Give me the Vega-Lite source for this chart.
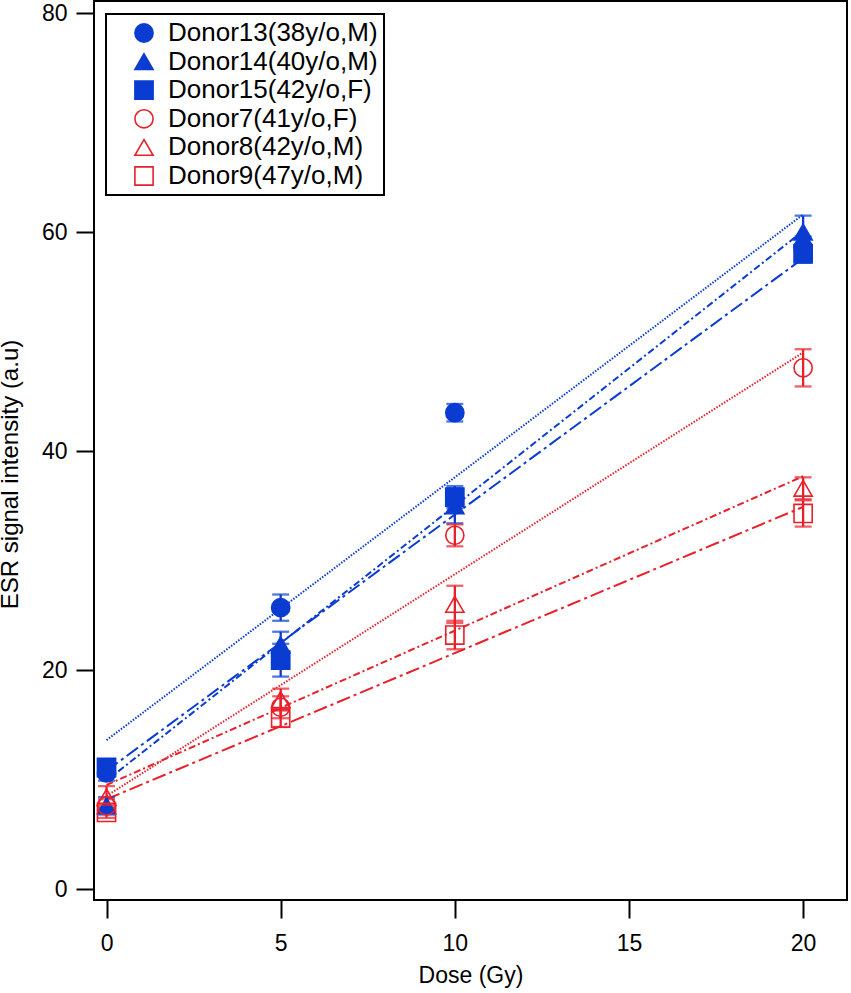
{
  "$schema": "https://vega.github.io/schema/vega-lite/v6.json",
  "autosize": "none",
  "width": 753,
  "height": 899,
  "padding": {"left": 94, "top": 1, "right": 4, "bottom": 93},
  "background": "white",
  "config": {
    "font": "Liberation Sans",
    "view": {"stroke": "black", "strokeWidth": 2},
    "axis": {
      "domain": false,
      "grid": false,
      "tickColor": "black",
      "tickWidth": 2,
      "tickSize": 18,
      "labelColor": "black",
      "labelFontSize": 23,
      "titleColor": "black",
      "titleFontWeight": "normal"
    },
    "legend": {
      "orient": "none",
      "legendX": 12,
      "legendY": 13,
      "padding": 6,
      "symbolOffset": 19,
      "labelOffset": 11,
      "rowPadding": 2.6,
      "labelFontSize": 26,
      "labelColor": "black",
      "labelLimit": 400,
      "symbolSize": 330,
      "symbolStrokeWidth": 1.6,
      "strokeColor": "black",
      "strokeWidth": 2,
      "fillColor": "white"
    }
  },
  "datasets": {
    "points": [
      {"donor": "Donor13(38y/o,M)", "dose": 0, "value": 10.6, "err": 0.7},
      {"donor": "Donor13(38y/o,M)", "dose": 5, "value": 25.7, "err": 1.2},
      {"donor": "Donor13(38y/o,M)", "dose": 10, "value": 43.5, "err": 0.8},
      {"donor": "Donor13(38y/o,M)", "dose": 20, "value": 58.6, "err": 1.0},
      {"donor": "Donor14(40y/o,M)", "dose": 0, "value": 7.6, "err": 0.8},
      {"donor": "Donor14(40y/o,M)", "dose": 5, "value": 22.3, "err": 1.2},
      {"donor": "Donor14(40y/o,M)", "dose": 10, "value": 35.0, "err": 1.6},
      {"donor": "Donor14(40y/o,M)", "dose": 20, "value": 60.0, "err": 1.5},
      {"donor": "Donor15(42y/o,F)", "dose": 0, "value": 11.1, "err": 0.6},
      {"donor": "Donor15(42y/o,F)", "dose": 5, "value": 20.9, "err": 1.5},
      {"donor": "Donor15(42y/o,F)", "dose": 10, "value": 35.8, "err": 1.0},
      {"donor": "Donor15(42y/o,F)", "dose": 20, "value": 58.0, "err": 0.8},
      {"donor": "Donor7(41y/o,F)", "dose": 0, "value": 7.6, "err": 0.6},
      {"donor": "Donor7(41y/o,F)", "dose": 5, "value": 16.6, "err": 1.0},
      {"donor": "Donor7(41y/o,F)", "dose": 10, "value": 32.3, "err": 1.0},
      {"donor": "Donor7(41y/o,F)", "dose": 20, "value": 47.6, "err": 1.7},
      {"donor": "Donor8(42y/o,M)", "dose": 0, "value": 8.4, "err": 1.0},
      {"donor": "Donor8(42y/o,M)", "dose": 5, "value": 17.3, "err": 1.0},
      {"donor": "Donor8(42y/o,M)", "dose": 10, "value": 26.0, "err": 1.7},
      {"donor": "Donor8(42y/o,M)", "dose": 20, "value": 36.6, "err": 1.0},
      {"donor": "Donor9(47y/o,M)", "dose": 0, "value": 7.0, "err": 0.5},
      {"donor": "Donor9(47y/o,M)", "dose": 5, "value": 15.6, "err": 0.8},
      {"donor": "Donor9(47y/o,M)", "dose": 10, "value": 23.2, "err": 1.3},
      {"donor": "Donor9(47y/o,M)", "dose": 20, "value": 34.3, "err": 1.2}
    ],
    "fits": [
      {"donor": "Donor13(38y/o,M)", "dose": 0, "fit": 13.6},
      {"donor": "Donor13(38y/o,M)", "dose": 20, "fit": 61.6},
      {"donor": "Donor14(40y/o,M)", "dose": 0, "fit": 9.9},
      {"donor": "Donor14(40y/o,M)", "dose": 20, "fit": 60.1},
      {"donor": "Donor15(42y/o,F)", "dose": 0, "fit": 10.8},
      {"donor": "Donor15(42y/o,F)", "dose": 20, "fit": 57.6},
      {"donor": "Donor7(41y/o,F)", "dose": 0, "fit": 8.5},
      {"donor": "Donor7(41y/o,F)", "dose": 20, "fit": 49.0},
      {"donor": "Donor8(42y/o,M)", "dose": 0, "fit": 9.5},
      {"donor": "Donor8(42y/o,M)", "dose": 20, "fit": 37.7},
      {"donor": "Donor9(47y/o,M)", "dose": 0, "fit": 8.2},
      {"donor": "Donor9(47y/o,M)", "dose": 20, "fit": 34.9}
    ]
  },
  "encoding": {
    "x": {
      "field": "dose",
      "type": "quantitative",
      "title": "Dose (Gy)",
      "scale": {"domain": [-0.36, 21.26], "nice": false, "zero": false},
      "axis": {
        "values": [0, 5, 10, 15, 20],
        "labelPadding": 14,
        "titleFontSize": 23,
        "titleBaseline": "alphabetic",
        "titleY": 82
      }
    }
  },
  "layer": [
    {
      "data": {"name": "fits"},
      "mark": {"type": "line", "strokeWidth": 2},
      "encoding": {
        "y": {
          "field": "fit",
          "type": "quantitative",
          "title": "ESR signal intensity (a.u)",
          "scale": {"domain": [-1.0, 81.1], "nice": false, "zero": false},
          "axis": {
            "values": [0, 20, 40, 60, 80],
            "labelPadding": 9,
            "titleFontSize": 24,
            "titleX": -72,
            "titleY": 473
          }
        },
        "color": {
          "field": "donor",
          "type": "nominal",
          "legend": null,
          "scale": {
            "domain": ["Donor9(47y/o,M)", "Donor8(42y/o,M)", "Donor7(41y/o,F)", "Donor15(42y/o,F)", "Donor14(40y/o,M)", "Donor13(38y/o,M)"],
            "range": ["#e8202a", "#e8202a", "#e8202a", "#0a3cd2", "#0a3cd2", "#0a3cd2"]
          }
        },
        "strokeDash": {
          "field": "donor",
          "type": "nominal",
          "legend": null,
          "scale": {
            "domain": ["Donor14(40y/o,M)", "Donor13(38y/o,M)", "Donor15(42y/o,F)", "Donor8(42y/o,M)", "Donor7(41y/o,F)", "Donor9(47y/o,M)"],
            "range": [[7, 3, 2, 3], [1.5, 1.5], [14, 4, 3, 4], [7, 3, 2, 3], [1.5, 1.5], [14, 4, 3, 4]]
          }
        }
      }
    },
    {
      "data": {"name": "points"},
      "mark": {"type": "errorbar", "ticks": true, "size": 17, "thickness": 2.3},
      "encoding": {
        "y": {"field": "value", "type": "quantitative", "title": "ESR signal intensity (a.u)"},
        "yError": {"field": "err"},
        "color": {"field": "donor", "type": "nominal", "legend": null}
      }
    },
    {
      "data": {"name": "points"},
      "mark": {"type": "point", "size": 330, "strokeWidth": 1.6, "opacity": 1},
      "encoding": {
        "y": {"field": "value", "type": "quantitative", "title": "ESR signal intensity (a.u)"},
        "shape": {
          "field": "donor",
          "type": "nominal",
          "title": null,
          "scale": {
            "domain": ["Donor13(38y/o,M)", "Donor14(40y/o,M)", "Donor15(42y/o,F)", "Donor7(41y/o,F)", "Donor8(42y/o,M)", "Donor9(47y/o,M)"],
            "range": ["circle", "triangle-up", "square", "circle", "triangle-up", "square"]
          }
        },
        "fill": {
          "field": "donor",
          "type": "nominal",
          "title": null,
          "scale": {
            "domain": ["Donor13(38y/o,M)", "Donor14(40y/o,M)", "Donor15(42y/o,F)", "Donor7(41y/o,F)", "Donor8(42y/o,M)", "Donor9(47y/o,M)"],
            "range": ["#0a3cd2", "#0a3cd2", "#0a3cd2", "transparent", "transparent", "transparent"]
          }
        },
        "stroke": {
          "field": "donor",
          "type": "nominal",
          "title": null,
          "scale": {
            "domain": ["Donor13(38y/o,M)", "Donor14(40y/o,M)", "Donor15(42y/o,F)", "Donor7(41y/o,F)", "Donor8(42y/o,M)", "Donor9(47y/o,M)"],
            "range": ["#0a3cd2", "#0a3cd2", "#0a3cd2", "#e8202a", "#e8202a", "#e8202a"]
          }
        }
      }
    }
  ]
}
